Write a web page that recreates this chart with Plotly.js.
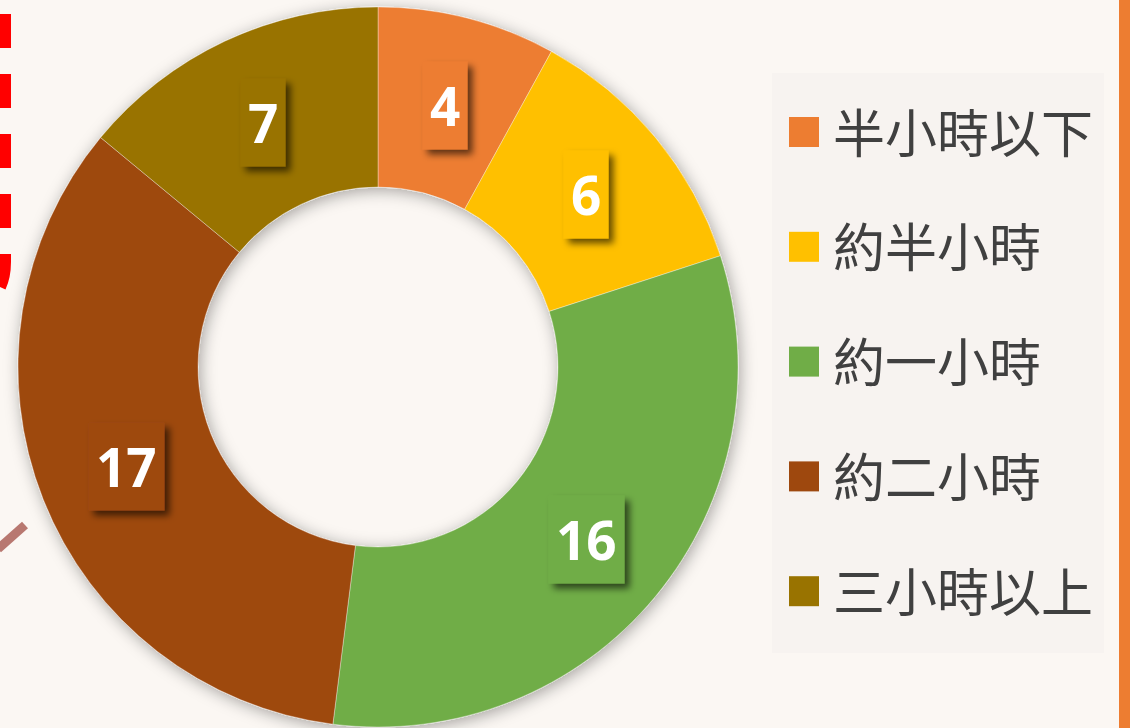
<!DOCTYPE html>
<html><head><meta charset="utf-8">
<script src="https://cdn.plot.ly/plotly-3.0.1.min.js"></script>
<style>html,body{margin:0;padding:0;background:#FBF7F3;overflow:hidden}</style>
</head><body><div id="chart" style="width:1130px;height:728px"></div>
<script>
// ---- data ----
const categories = ['半小時以下', '約半小時', '約一小時', '約二小時', '三小時以上'];
const values = [4, 6, 16, 17, 7];
const colors = ['#ED7D31', '#FFC000', '#70AD47', '#9E480E', '#997300'];

// ---- layout helpers ----
const W = 1130, H = 728;
const px = x => x / W, py = y => 1 - y / H;
const pieL = 18, pieR = 738, pieT = 7, pieB = 727;
const cx = (pieL + pieR) / 2, cy = (pieT + pieB) / 2, R = (pieR - pieL) / 2, hole = 0.5;
const total = values.reduce((a, b) => a + b, 0);

const annotations = [];
const shapes = [];

// value boxes centred in each ring segment (computed from the data)
let cum = 0;
values.forEach((v, i) => {
  const mid = (cum + v / 2) / total * 2 * Math.PI; cum += v;
  const r = R * (1 + hole) / 2;
  annotations.push({
    xref: 'paper', yref: 'paper',
    x: px(cx + r * Math.sin(mid)), y: py(cy - r * Math.cos(mid)),
    xanchor: 'center', yanchor: 'middle', showarrow: false,
    text: '<b>' + v + '</b>',
    font: {family: 'Open Sans', size: 53, color: '#FFFFFF'},
    bgcolor: colors[i], borderpad: 7
  });
});

// legend panel
shapes.push({type: 'rect', xref: 'paper', yref: 'paper', layer: 'below',
  x0: px(772), x1: px(1104), y0: py(653), y1: py(73),
  fillcolor: '#F7F3F0', line: {width: 0}});
const legTop = 132, legStep = 114.8;
categories.forEach((c, i) => {
  const yc = legTop + i * legStep;
  shapes.push({type: 'rect', xref: 'paper', yref: 'paper',
    x0: px(789), x1: px(819), y0: py(yc + 15), y1: py(yc - 15),
    fillcolor: colors[i], line: {width: 0}});
  annotations.push({xref: 'paper', yref: 'paper', x: px(831), y: py(yc - 2),
    xanchor: 'left', yanchor: 'middle', showarrow: false, text: c,
    font: {family: 'Noto Sans CJK TC', size: 52, color: '#404040'}});
});

// right orange bar
shapes.push({type: 'rect', xref: 'paper', yref: 'paper', x0: px(1119), x1: px(1135), y0: 0, y1: 1,
  fillcolor: '#ED7D31', line: {width: 0}});
// left red dashed frame
shapes.push({type: 'path', xref: 'paper', yref: 'paper',
  path: `M ${px(5.5)},${py(-46)} L ${px(5.5)},${py(262)} Q ${px(5.5)},${py(300)} ${px(-30)},${py(315)}`,
  line: {color: '#FF0000', width: 11, dash: '34px,26px'}});
// small pointer at left
shapes.push({type: 'line', xref: 'paper', yref: 'paper',
  x0: px(-2), y0: py(549), x1: px(25), y1: py(525),
  line: {color: '#B87870', width: 9}});

const data = [{
  type: 'pie', labels: categories, values: values, hole: hole,
  sort: false, direction: 'clockwise', rotation: 0,
  marker: {colors: colors, line: {color: 'rgba(255,255,255,0.35)', width: 1}},
  textinfo: 'none', hoverinfo: 'label+value', showlegend: false,
  domain: {x: [px(pieL), px(pieR)], y: [py(pieB), py(pieT)]}
}];

const layout = {
  width: W, height: H,
  margin: {l: 0, r: 0, t: 0, b: 0},
  paper_bgcolor: '#FBF7F3', plot_bgcolor: '#FBF7F3',
  showlegend: false, annotations: annotations, shapes: shapes
};

Plotly.newPlot('chart', data, layout, {staticPlot: true}).then(gd => {
  const NS = 'http://www.w3.org/2000/svg';
  const defs = gd.querySelector('svg.main-svg defs');
  function mk(id, dx, dy, sd, op) {
    const f = document.createElementNS(NS, 'filter');
    f.setAttribute('id', id);
    f.setAttribute('x', '-30%'); f.setAttribute('y', '-30%');
    f.setAttribute('width', '160%'); f.setAttribute('height', '160%');
    const d = document.createElementNS(NS, 'feDropShadow');
    d.setAttribute('dx', dx); d.setAttribute('dy', dy);
    d.setAttribute('stdDeviation', sd);
    d.setAttribute('flood-color', '#000'); d.setAttribute('flood-opacity', op);
    f.appendChild(d); defs.appendChild(f);
  }
  mk('pieShadow', 2, 3, 8, 0.35);
  mk('boxShadow', 5, 5, 3.5, 0.6);
  const pl = gd.querySelector('.pielayer');
  if (pl) pl.setAttribute('filter', 'url(#pieShadow)');
  for (let i = 0; i < values.length; i++) {
    const g = gd.querySelector('.annotation[data-index="' + i + '"] rect.bg');
    if (g) g.setAttribute('filter', 'url(#boxShadow)');
  }
});
</script>
</body></html>
